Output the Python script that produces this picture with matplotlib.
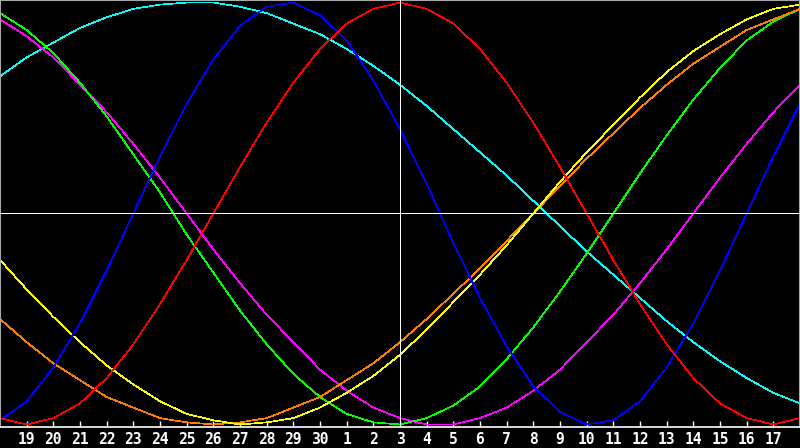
import matplotlib
matplotlib.use("Agg")
import matplotlib.pyplot as plt
import numpy as np

# Day-of-month labels for positions 1..29 (position 0 and 30 are unlabeled day 18s)
tick_days = ["19", "20", "21", "22", "23", "24", "25", "26", "27", "28", "29", "30",
             "1", "2", "3", "4", "5", "6", "7", "8", "9", "10", "11", "12", "13",
             "14", "15", "16", "17"]
today_label = "3"

# Biorhythm values (percent), one value per day, 31 days
physical = [-98, -89, -73, -52, -27, 0, 27, 52, 73, 89, 98, 100, 94, 82, 63, 40,
            14, -14, -40, -63, -82, -94, -100, -98, -89, -73, -52, -27, 0, 27, 52]
emotional = [-97, -100, -97, -90, -78, -62, -43, -22, 0, 22, 43, 62, 78, 90, 97, 100,
             97, 90, 78, 62, 43, 22, 0, -22, -43, -62, -78, -90, -97, -100, -97]
intellectual = [95, 87, 76, 62, 46, 28, 10, -10, -28, -46, -62, -76, -87, -95, -99, -100,
                -97, -91, -82, -69, -54, -37, -19, 0, 19, 37, 54, 69, 82, 91, 97]
intuitive = [92, 84, 74, 61, 48, 33, 17, 0, -17, -33, -48, -61, -74, -84, -92, -97,
             -100, -100, -97, -92, -84, -74, -61, -48, -33, -17, 0, 17, 33, 48, 61]
aesthetic = [-22, -36, -49, -61, -72, -81, -89, -95, -98, -100, -99, -97, -92, -85, -77, -67,
             -55, -42, -29, -15, 0, 15, 29, 42, 55, 67, 77, 85, 92, 97, 99]
awareness = [-50, -61, -71, -79, -87, -92, -97, -99, -100, -99, -97, -92, -87, -79, -71, -61,
             -50, -38, -26, -13, 0, 13, 26, 38, 50, 61, 71, 79, 87, 92, 97]
spiritual = [65, 74, 81, 88, 93, 97, 99, 100, 100, 98, 95, 90, 85, 78, 70, 61,
             51, 40, 29, 18, 6, -6, -18, -29, -40, -51, -61, -70, -78, -85, -90]

series = [
    (spiritual, "#00ffff"),
    (intuitive, "#ff00ff"),
    (intellectual, "#00ff00"),
    (awareness, "#ff8000"),
    (aesthetic, "#ffff00"),
    (physical, "#0000ff"),
    (emotional, "#ff0000"),
]

W, H = 800, 448
fig = plt.figure(figsize=(W / 100, H / 100), dpi=100, facecolor="black")
ax = fig.add_axes([0, 21 / H, 1, 427 / H])
ax.set_facecolor("black")

x = np.arange(len(physical))
for vals, col in series:
    ax.plot(x, vals, color=col, lw=0.5, antialiased=False, zorder=2)

ax.axhline(0, color="white", lw=0.6, antialiased=False, zorder=3)
today_pos = tick_days.index(today_label) + 1
ax.axvline(today_pos, color="white", lw=0.6, antialiased=False, zorder=3)

ax.set_xlim(0, len(physical) - 1)
ax.set_ylim(-101.2, 101.2)
ax.set_xticks(np.arange(1, len(tick_days) + 1))
ax.set_xticklabels(tick_days, color="white", fontweight="bold",
                   family="DejaVu Sans Mono", fontsize=10.5)
ax.set_yticks([])
ax.tick_params(axis="x", direction="in", length=4, width=1, color="white", pad=3.5)

for side in ("left", "top", "right"):
    ax.spines[side].set_color("#a8a8a8")
    ax.spines[side].set_linewidth(1.5)
ax.spines["bottom"].set_color("white")
ax.spines["bottom"].set_linewidth(1.2)

fig.savefig("out.png", dpi=100, facecolor="black")
